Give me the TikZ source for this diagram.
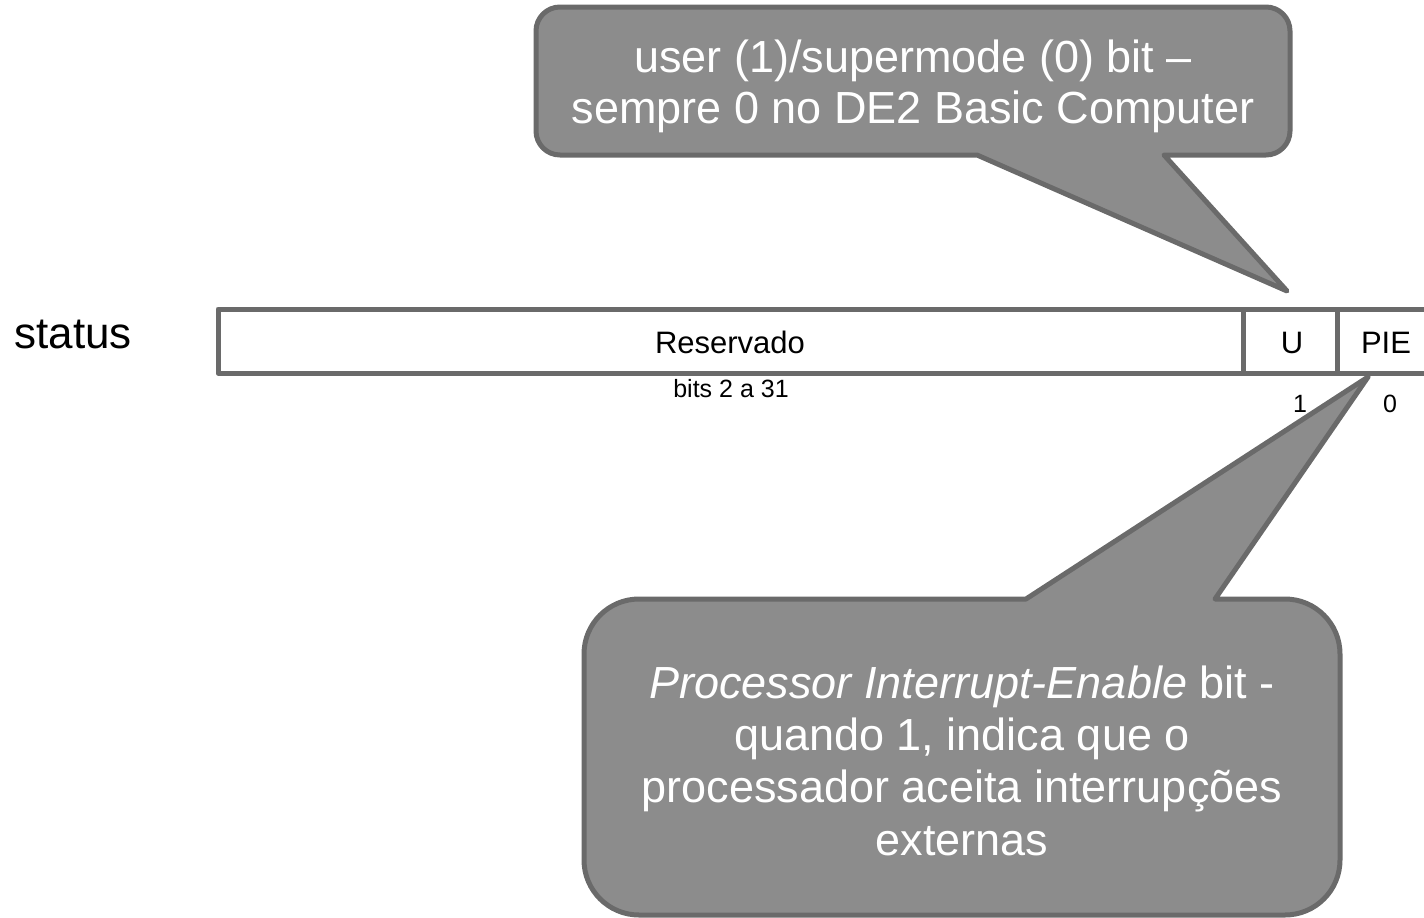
\documentclass[tikz,border=0pt]{standalone}
\usepackage{fontspec}
\setmainfont{Liberation Sans}
\definecolor{calloutfill}{HTML}{8C8C8C}
\definecolor{edgegray}{HTML}{6A6A6A}
\tikzset{
  callout/.style={fill=calloutfill, draw=edgegray, line width=5pt, line join=round},
  regline/.style={draw=edgegray, line width=5pt, line join=round},
  bubbletext/.style={text=white, anchor=base, inner sep=0pt, font=\fontsize{45}{52}\selectfont},
  fieldtext/.style={anchor=base, inner sep=0pt, font=\fontsize{31}{36}\selectfont},
  bitnum/.style={anchor=base, inner sep=0pt, font=\fontsize{25}{30}\selectfont},
}
\begin{document}
\begin{tikzpicture}[x=1pt, y=-1pt]
\useasboundingbox (0,0) rectangle (1424,918);

% register outline and field separators
\draw[regline] (1426,309) -- (218,309) -- (218,373) -- (1426,373);
\draw[regline] (1243,309) -- (1243,373);
\draw[regline] (1337,309) -- (1337,373);

\node[anchor=base, inner sep=0pt, font=\fontsize{44}{50}\selectfont] (status) at (73,348) {status};
\node[fieldtext] (res) at (730,353) {Reservado};
\node[fieldtext] (ubit) at (1292,353) {U};
\node[fieldtext] (pie) at (1386,353) {PIE};
\node[bitnum] (bits) at (731,397) {bits 2 a 31};
\node[bitnum] (one) at (1300,412) {1};
\node[bitnum] (zero) at (1390,412) {0};

% pointer tips
\coordinate (utip) at (1287,291);
\coordinate (ptip) at (1368,377);

% callout for the U bit
\draw[callout] (560,7) -- (1266,7) arc[start angle=-90, end angle=0, radius=24]
  -- (1290,131) arc[start angle=0, end angle=90, radius=24]
  -- (1164,155) -- (utip) -- (977,155)
  -- (560,155) arc[start angle=90, end angle=180, radius=24]
  -- (536,31) arc[start angle=180, end angle=270, radius=24] -- cycle;
\node[bubbletext] (u1) at (913,72) {user (1)/supermode (0) bit –};
\node[bubbletext] (u2) at (913,123) {sempre 0 no DE2 Basic Computer};

% callout for the PIE bit
\draw[callout] (639,599) -- (1026,599) -- (ptip) -- (1215,599)
  -- (1285,599) arc[start angle=-90, end angle=0, radius=55]
  -- (1340,860) arc[start angle=0, end angle=90, radius=55]
  -- (639,915) arc[start angle=90, end angle=180, radius=55]
  -- (584,654) arc[start angle=180, end angle=270, radius=55] -- cycle;
\node[bubbletext] (p1) at (962,698) {\textit{Processor Interrupt-Enable} bit -};
\node[bubbletext] (p2) at (962,750) {quando 1, indica que o};
\node[bubbletext] (p3) at (962,802) {processador aceita interrupções};
\node[bubbletext] (p4) at (962,855) {externas};
\end{tikzpicture}
\end{document}
